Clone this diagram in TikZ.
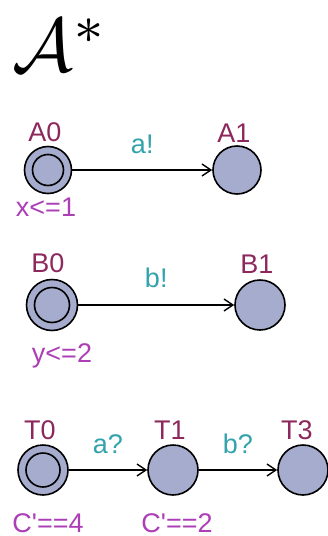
\documentclass[tikz,border=0pt]{standalone}
\usepackage{fontspec}
\setmainfont{Liberation Sans}
\setmonofont{Liberation Sans}
\usetikzlibrary{arrows.meta}
\definecolor{locname}{RGB}{140,40,92}
\definecolor{synccol}{RGB}{50,162,172}
\definecolor{invcol}{RGB}{172,62,182}
\definecolor{locfill}{RGB}{165,172,205}
\newcommand{\sq}{{\ttfamily '}}
\tikzset{
  loc/.style={circle, draw=black, line width=1.6pt, fill=locfill, minimum size=#1, inner sep=0pt},
  lbl/.style={font=\fontsize{27}{30}\selectfont, inner sep=0pt},
  namelbl/.style={lbl, text=locname},
  synclbl/.style={lbl, text=synccol},
  invlbl/.style={lbl, text=invcol},
  edge/.style={line width=1.4pt, -{Straight Barb[length=9pt, width=12pt, line width=1.4pt]}},
  inner/.style={circle, draw=black, line width=1.6pt, minimum size=#1, inner sep=0pt}
}
\begin{document}
\begin{tikzpicture}[x=1pt,y=1pt]
\useasboundingbox (0,0) rectangle (328,-536);
% title
\node[anchor=base west, inner sep=0pt, scale=7.6] (title) at (11,-71) {$\mathcal{A}^{*}$};
% row A
\node[loc=47pt] (A0) at (48,-170) {};
\node[inner=31pt] (A0i) at (A0.center) {};
\node[loc=48pt] (A1) at (237,-170) {};
\node[namelbl] (lA0) at (45,-132) {A0};
\node[namelbl] (lA1) at (234,-133) {A1};
\node[invlbl] (iA0) at (46,-207) {x<=1};
\draw[edge] (A0) -- node[synclbl, above=16pt] (sa) {a!} (A1);
% row B
\node[loc=51pt] (B0) at (52,-305) {};
\node[inner=35pt] (B0i) at (B0.center) {};
\node[loc=50pt] (B1) at (260,-305) {};
\node[namelbl] (lB0) at (48,-263) {B0};
\node[namelbl] (lB1) at (257,-264) {B1};
\node[invlbl] (iB0) at (62,-356) {y<=2};
\draw[edge] (B0) -- node[synclbl, above=17pt] (sb) {b!} (B1);
% row T
\node[loc=50pt] (T0) at (43,-470) {};
\node[inner=34pt] (T0i) at (T0.center) {};
\node[loc=50pt] (T1) at (173,-470) {};
\node[loc=50pt] (T3) at (303,-470) {};
\node[namelbl] (lT0) at (40,-430) {T0};
\node[namelbl] (lT1) at (170,-430) {T1};
\node[namelbl] (lT3) at (297,-430) {T3};
\node[invlbl] (iT0) at (48,-523) {C\sq==4};
\node[invlbl] (iT1) at (177,-523) {C\sq==2};
\draw[edge] (T0) -- node[synclbl, above=16pt] (ta) {a?} (T1);
\draw[edge] (T1) -- node[synclbl, above=16pt] (tb) {b?} (T3);
\end{tikzpicture}
\end{document}
